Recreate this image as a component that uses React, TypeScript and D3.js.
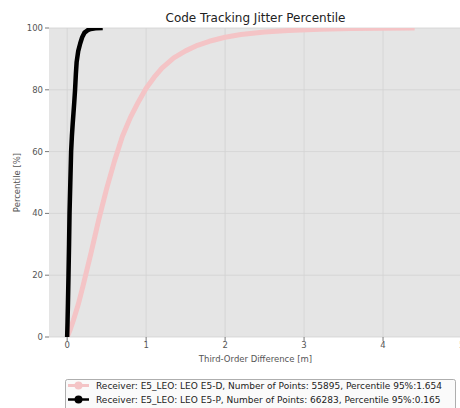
import React from 'react';
import * as d3 from 'd3';

// CDF of E5-D (pink) and E5-P (black)
const dX = [0, 0.04, 0.08, 0.14, 0.2, 0.3, 0.4, 0.5, 0.6, 0.7, 0.8, 0.9, 1.0, 1.1, 1.2, 1.35, 1.5, 1.65, 1.8, 2.0, 2.2, 2.5, 2.8, 3.2, 3.6, 4.0, 4.4];
const dY = [0, 2.5, 5.5, 10.5, 16.5, 27, 38, 48, 57, 65, 71, 76, 80.5, 84, 87, 90.3, 92.6, 94.4, 95.7, 97, 97.9, 98.7, 99.2, 99.6, 99.8, 99.95, 100];

const pX = [0, 0.005, 0.01, 0.017, 0.024, 0.03, 0.04, 0.05, 0.06, 0.07, 0.08, 0.09, 0.1, 0.11, 0.12, 0.14, 0.165, 0.19, 0.22, 0.26, 0.3, 0.36, 0.45];
const pY = [0, 5, 11, 20, 30, 40, 50, 60, 65, 69, 72.5, 76, 80, 85, 89, 92.5, 95, 97, 98.5, 99.3, 99.7, 99.9, 100];

const xTicks = [0, 1, 2, 3, 4, 5];
const yTicks = [0, 20, 40, 60, 80, 100];

const legendLabels = [
  'Receiver: E5_LEO: LEO E5-D, Number of Points: 55895, Percentile 95%:1.654',
  'Receiver: E5_LEO: LEO E5-P, Number of Points: 66283, Percentile 95%:0.165',
];

const W = 460;
const H = 408;
const margin = { left: 49, right: 462, top: 28, bottom: 337 };
const font = 'DejaVu Sans, sans-serif';

const App: React.FC = () => {
  const x = d3.scaleLinear().domain([-0.23, 5.0]).range([margin.left, margin.right]);
  const y = d3.scaleLinear().domain([0, 100]).range([margin.bottom, margin.top]);

  const line = d3.line<[number, number]>()
    .x(d => x(d[0]))
    .y(d => y(d[1]));

  const dPts = dX.map((v, i) => [v, dY[i]] as [number, number]);
  const pPts = pX.map((v, i) => [v, pY[i]] as [number, number]);

  const pink = '#f4c4c6';

  return (
    <svg width={W} height={H} style={{ position: 'absolute', left: 0, top: 0 }} fontFamily={font}>
      <defs>
        <clipPath id="plot">
          <rect x={margin.left} y={margin.top} width={margin.right - margin.left} height={margin.bottom - margin.top} />
        </clipPath>
      </defs>
      <rect width={W} height={H} fill="#fff" />
      <rect x={margin.left} y={margin.top} width={margin.right - margin.left} height={margin.bottom - margin.top} fill="#e5e5e5" />

      {xTicks.map(t => (
        <line key={'gx' + t} x1={x(t)} x2={x(t)} y1={margin.top} y2={margin.bottom} stroke="#d2d2d2" strokeWidth={0.8} />
      ))}
      {yTicks.map(t => (
        <line key={'gy' + t} x1={margin.left} x2={margin.right} y1={y(t)} y2={y(t)} stroke="#d2d2d2" strokeWidth={0.8} />
      ))}

      <g clipPath="url(#plot)">
        <path d={line(dPts) || ''} fill="none" stroke={pink} strokeWidth={5} strokeLinejoin="round" />
        <path d={line(pPts) || ''} fill="none" stroke="#000" strokeWidth={4.5} strokeLinejoin="round" />
      </g>

      {yTicks.map(t => (
        <g key={'ty' + t}>
          <line x1={margin.left - 4} x2={margin.left} y1={y(t)} y2={y(t)} stroke="#555" strokeWidth={0.8} />
          <text x={margin.left - 6} y={y(t)} dy="0.35em" textAnchor="end" fontSize={8.5} fill="#555">{t}</text>
        </g>
      ))}
      {xTicks.map(t => (
        <g key={'tx' + t}>
          <line x1={x(t)} x2={x(t)} y1={margin.bottom} y2={margin.bottom + 4} stroke="#555" strokeWidth={0.8} />
          <text x={x(t)} y={margin.bottom + 11} textAnchor="middle" fontSize={8.5} fill="#555">{t}</text>
        </g>
      ))}

      <text x={(margin.left + margin.right) / 2} y={22} textAnchor="middle" fontSize={12} fill="#222">Code Tracking Jitter Percentile</text>
      <text x={(margin.left + margin.right) / 2} y={362} textAnchor="middle" fontSize={8.5} fill="#555">Third-Order Difference [m]</text>
      <text transform={`translate(20,${(margin.top + margin.bottom) / 2}) rotate(-90)`} textAnchor="middle" fontSize={8.5} fill="#555">Percentile [%]</text>

      <g>
        <rect x={65.5} y={379.5} width={390} height={40} rx={2} fill="#fafafa" stroke="#999" strokeWidth={0.8} />
        {legendLabels.map((lab, i) => {
          const cy = 385.5 + i * 14;
          const c = i === 0 ? pink : '#000';
          return (
            <g key={lab}>
              <line x1={68} x2={89} y1={cy} y2={cy} stroke={c} strokeWidth={i === 0 ? 3 : 2.5} />
              <circle cx={78.5} cy={cy} r={4} fill={c} />
              <text x={96} y={cy} dy="0.35em" fontSize={9} fill="#222">{lab}</text>
            </g>
          );
        })}
      </g>
    </svg>
  );
};

export default App;
